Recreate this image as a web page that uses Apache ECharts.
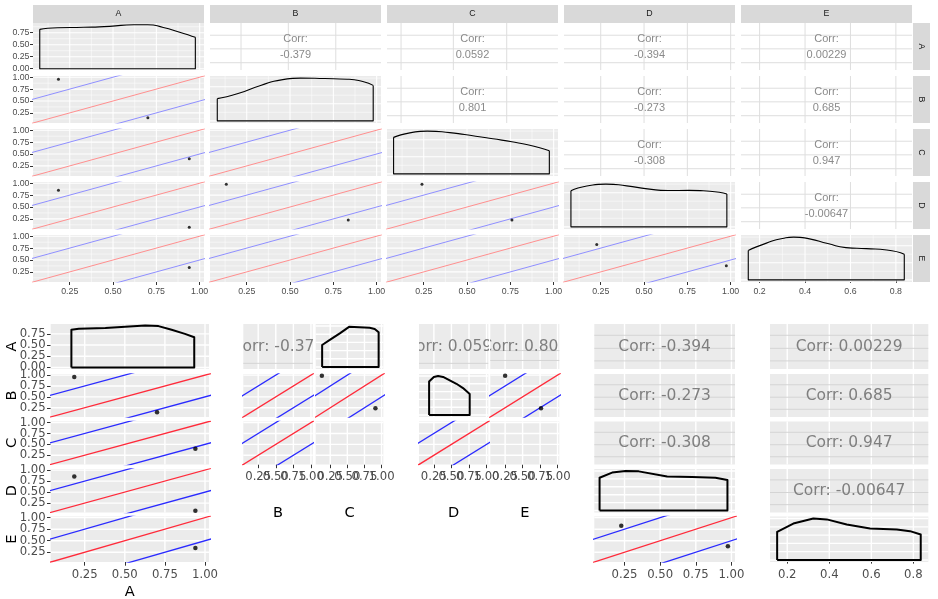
<!DOCTYPE html>
<html>
<head>
<meta charset="utf-8">
<script src="https://cdn.jsdelivr.net/npm/echarts@6/dist/echarts.min.js"></script>
<style>
  html, body { margin: 0; padding: 0; background: #ffffff; }
  #chart { width: 938px; height: 599px; }
</style>
</head>
<body>
<div id="chart"></div>
<script>
// ---------- data ----------
var varNames = ['A', 'B', 'C', 'D', 'E'];

// tick values
var ticks01 = [0.25, 0.5, 0.75, 1.0];
var minor01 = [0.125, 0.375, 0.625, 0.875];
var ticksE = [0.2, 0.4, 0.6, 0.8];
var minorE = [0.3, 0.5, 0.7];
var ticksDensA = [0, 0.25, 0.5, 0.75];
var minorDensA = [0.125, 0.375, 0.625, 0.875];
var ticksDensRel = [0, 0.4, 0.8];
var minorDensRel = [0.2, 0.6, 1.0];
var ticksDensRelBot = [0, 0.2, 0.4, 0.6, 0.8, 1.0];

// axis ranges
var range01 = [0.038, 1.025];
var rangeE = [0.118, 0.871];
var rangeDensA = [-0.027, 0.952];
var rangeDensABot = [-0.035, 0.97];
var rangeDensRel = [-0.05, 1.05];
var rangeUnit = [0, 1];

// correlations
var corrPairs = ['A-B', 'A-C', 'A-D', 'A-E', 'B-C', 'B-D', 'B-E', 'C-D', 'C-E', 'D-E'];
var corrValues = ['-0.379', '0.0592', '-0.394', '0.00229', '0.801', '-0.273', '0.685', '-0.308', '0.947', '-0.00647'];

// scatter points (row var - column var)
var ptsBA = [[0.185, 0.958], [0.701, 0.146]];
var ptsCA = [[0.94, 0.402]];
var ptsDA = [[0.185, 0.854], [0.94, 0.075]];
var ptsEA = [[0.94, 0.34]];
var ptsDB = [[0.132, 0.979], [0.836, 0.229]];
var ptsDC = [[0.24, 0.979], [0.759, 0.229]];
var ptsED = [[0.227, 0.827], [0.975, 0.381]];
var ptsGroup1 = [[0.128, 0.986], [0.91, 0.238]];
var ptsGroup2 = [[0.25, 0.986], [0.763, 0.238]];

// densities, ggplot version
var densAx = [0.077, 0.18, 0.33, 0.48, 0.62, 0.70, 0.79, 0.88, 0.975];
var densAy = [0.82, 0.852, 0.862, 0.882, 0.915, 0.915, 0.86, 0.765, 0.654];
var densBx = [0.080, 0.20, 0.33, 0.45, 0.56, 0.70, 0.83, 0.92, 0.98];
var densBy = [0.52, 0.64, 0.83, 0.96, 1.0, 0.99, 0.975, 0.92, 0.83];
var densCx = [0.076, 0.17, 0.27, 0.40, 0.55, 0.70, 0.85, 0.975];
var densCy = [0.854, 0.96, 1.0, 0.965, 0.88, 0.79, 0.68, 0.54];
var densDx = [0.078, 0.17, 0.28, 0.40, 0.52, 0.64, 0.76, 0.88, 0.978];
var densDy = [0.847, 0.955, 1.0, 0.96, 0.89, 0.85, 0.853, 0.835, 0.77];
var densEx = [0.15, 0.23, 0.30, 0.35, 0.42, 0.50, 0.58, 0.67, 0.76, 0.837];
var densEy = [0.69, 0.86, 0.97, 1.0, 0.96, 0.85, 0.755, 0.73, 0.70, 0.60];

// densities, plotly version
var bDensAx = [0.167, 0.213, 0.379, 0.503, 0.627, 0.71, 0.792, 0.875, 0.933];
var bDensAy = [0.84, 0.862, 0.878, 0.907, 0.937, 0.923, 0.84, 0.75, 0.675];
var bDensG1x = [0.132, 0.244, 0.39, 0.525, 0.826, 0.90, 0.957];
var bDensG1y = [0.537, 0.66, 0.82, 0.98, 0.96, 0.93, 0.85];
var bDensG2x = [0.182, 0.249, 0.31, 0.381, 0.571, 0.665, 0.76];
var bDensG2y = [0.86, 0.975, 1.0, 0.975, 0.80, 0.69, 0.54];
var bDensDx = [0.075, 0.163, 0.257, 0.35, 0.549, 0.724, 0.888, 0.972];
var bDensDy = [0.83, 0.96, 1.0, 0.99, 0.86, 0.85, 0.83, 0.77];
var bDensEx = [0.152, 0.229, 0.324, 0.388, 0.483, 0.594, 0.721, 0.784, 0.835];
var bDensEy = [0.68, 0.88, 1.0, 0.98, 0.856, 0.76, 0.736, 0.696, 0.616];

// reference lines y = x + offset
var refOffsets = [-0.5, 0, 0.5];
var refSpan = [-0.5, 1.5];

// grid lines inside the correlation panels
var topCorrV = [null, [0.217, 0.49, 0.764], [0.119, 0.421, 0.729], [0.25, 0.5, 0.75, 1.0], [0.2, 0.4, 0.6, 0.8]];
var topCorrH = [0.155, 0.45, 0.74];
var botCorrH = [0.18, 0.46, 0.75];
var g1CorrH = [0.126];
var g2CorrHD = [0.126];
var g2CorrHE = [0.19, 0.41];

// ---------- building ----------
var grids = [], xAxes = [], yAxes = [], series = [], graphics = [];

var LINE_STYLES = [
  { c: '#FFFFFF', w: 1.07 },  // ggplot major
  { c: '#FFFFFF', w: 0.53 },  // ggplot minor
  { c: '#DEDEDE', w: 1.0 },   // ggplot corr panel
  { c: '#FFFFFF', w: 1.4 },   // plotly major
  { c: '#D4D4D4', w: 1.0 }    // plotly corr panel
];

var TOP = { font: 'Liberation Sans', size: 8.8, color: '#4D4D4D', tick: 3, xMargin: 5.5, yMargin: 3.5 };
var BOT = { font: 'DejaVu Sans', size: 11.7, color: '#4D4D4D', tick: 3.7, xMargin: 6.5, yMargin: 5 };
var TOP_TXT = { font: 'Liberation Sans', size: 11, color: '#8A8A8A', lh: 15.7, dy: 0.7 };
var BOT_TXT = { font: 'DejaVu Sans', size: 15.5, color: '#7F7F7F', lh: 18, dy: 0 };

function fmt2(v) { return Number(v).toFixed(2); }
function fmt1(v) { return Number(v).toFixed(1); }

function lineItems(vals, orient, style) {
  return vals.map(function (v) { return [v, orient, style]; });
}

function makeAxis(i, r, lab, st, isX) {
  var ax = {
    gridIndex: i, type: 'value', min: r[0], max: r[1],
    axisLine: { show: false }, splitLine: { show: false }, splitArea: { show: false },
    axisTick: { show: false }, axisLabel: { show: false }
  };
  if (lab) {
    ax.axisTick = { show: true, customValues: lab.vals, length: st.tick, lineStyle: { color: '#333333', width: 1 } };
    // blank labels at both ends, so the min/max overlap rule never removes a real label
    ax.axisLabel = {
      show: true, customValues: [r[0]].concat(lab.vals, [r[1]]),
      formatter: function (v) {
        if (Math.abs(v - r[0]) < 1e-9 || Math.abs(v - r[1]) < 1e-9) return '';
        return lab.fmt(v);
      },
      margin: isX ? st.xMargin : st.yMargin, hideOverlap: false,
      fontFamily: st.font, fontSize: st.size, color: st.color
    };
  }
  return ax;
}

function addPanel(p) {
  var i = grids.length;
  grids.push({
    left: p.x, top: p.y, width: p.w, height: p.h, show: true,
    backgroundColor: p.bg, borderWidth: 0, containLabel: false, outerBoundsMode: 'none'
  });
  xAxes.push(makeAxis(i, p.xr, p.xLab, p.st, true));
  yAxes.push(makeAxis(i, p.yr, p.yLab, p.st, false));
  if (p.lines && p.lines.length) {
    var xr = p.xr, yr = p.yr;
    series.push({
      type: 'custom', xAxisIndex: i, yAxisIndex: i, z: 1, silent: true, data: p.lines,
      renderItem: function (params, api) {
        var cs = params.coordSys, v = api.value(0), s = LINE_STYLES[api.value(2)];
        var shape;
        if (api.value(1) === 0) {
          var x = api.coord([v, yr[0]])[0];
          shape = { x1: x, y1: cs.y, x2: x, y2: cs.y + cs.height };
        } else {
          var y = api.coord([xr[0], v])[1];
          shape = { x1: cs.x, y1: y, x2: cs.x + cs.width, y2: y };
        }
        return { type: 'line', shape: shape, style: { stroke: s.c, lineWidth: s.w } };
      }
    });
  }
  return i;
}

function addRefLines(i, red, blue, width) {
  refOffsets.forEach(function (off) {
    series.push({
      type: 'line', xAxisIndex: i, yAxisIndex: i, z: 2, silent: true, clip: true,
      showSymbol: false, symbol: 'none',
      data: refSpan.map(function (x) { return [x, x + off]; }),
      lineStyle: { color: off === 0 ? red : blue, width: width }
    });
  });
}

function addPoints(i, pts, size) {
  if (!pts || !pts.length) return;
  series.push({
    type: 'scatter', xAxisIndex: i, yAxisIndex: i, z: 4, silent: true, clip: true,
    data: pts, symbol: 'circle', symbolSize: size, itemStyle: { color: '#000000' }
  });
}

function addDensity(i, xs, ys, smooth, width) {
  var n = xs.length - 1;
  var curve = xs.map(function (x, k) { return [x, ys[k]]; });
  var common = {
    type: 'line', xAxisIndex: i, yAxisIndex: i, z: 3, silent: true,
    showSymbol: false, symbol: 'none', lineStyle: { color: '#000000', width: width, join: 'round' }
  };
  if (smooth) {
    series.push(Object.assign({}, common, { data: curve, smooth: 0.6 }));
    series.push(Object.assign({}, common, { data: [[xs[0], ys[0]], [xs[0], 0], [xs[n], 0], [xs[n], ys[n]]] }));
  } else {
    series.push(Object.assign({}, common, { data: [[xs[0], 0]].concat(curve, [[xs[n], 0], [xs[0], 0]]) }));
  }
}

function addText(i, text, st, xr, yr) {
  series.push({
    type: 'custom', xAxisIndex: i, yAxisIndex: i, z: 5, silent: true, clip: true,
    data: [[(xr[0] + xr[1]) / 2, (yr[0] + yr[1]) / 2]],
    renderItem: function (params) {
      var cs = params.coordSys;
      return {
        type: 'text',
        style: {
          text: text, x: cs.x + cs.width / 2, y: cs.y + cs.height / 2 + st.dy,
          align: 'center', verticalAlign: 'middle', textAlign: 'center', textVerticalAlign: 'middle',
          fill: st.color, fontSize: st.size, fontFamily: st.font, lineHeight: st.lh
        }
      };
    }
  });
}

function corrOf(a, b) { return corrValues[corrPairs.indexOf(a + '-' + b)]; }

var scatterTop = { 'B-A': ptsBA, 'C-A': ptsCA, 'D-A': ptsDA, 'E-A': ptsEA, 'D-B': ptsDB, 'D-C': ptsDC, 'E-D': ptsED };
var densTop = [[densAx, densAy], [densBx, densBy], [densCx, densCy], [densDx, densDy], [densEx, densEy]];

function addLabel(x, y, text, size, font, color, rot) {
  graphics.push({
    type: 'text', x: x, y: y, rotation: rot || 0, silent: true,
    style: {
      text: text, fill: color, fontSize: size, fontFamily: font,
      align: 'center', verticalAlign: 'middle', textAlign: 'center', textVerticalAlign: 'middle'
    }
  });
}

// ---------- top: ggplot pairs ----------
var colX = [33, 210, 387, 564, 741], colW = 171;
var rowY = [23, 76, 129, 182, 235], rowH = 47;

function colRange(c) { return c === 4 ? rangeE : range01; }
function colTicks(c) { return c === 4 ? ticksE : ticks01; }
function colMinor(c) { return c === 4 ? minorE : minor01; }
function colFmt(c) { return c === 4 ? fmt1 : fmt2; }

for (var r = 0; r < 5; r++) {
  for (var c = 0; c < 5; c++) {
    var xLab = r === 4 ? { vals: colTicks(c), fmt: colFmt(c) } : null;
    var yLab = c === 0 ? { vals: r === 0 ? ticksDensA : ticks01, fmt: fmt2 } : null;
    var base = { x: colX[c], y: rowY[r], w: colW, h: rowH, xr: colRange(c), xLab: xLab, yLab: yLab, st: TOP };
    var i;
    if (r === c) {
      var dA = r === 0;
      base.bg = '#EBEBEB';
      base.yr = dA ? rangeDensA : rangeDensRel;
      base.lines = lineItems(colTicks(c), 0, 0).concat(lineItems(colMinor(c), 0, 1),
        lineItems(dA ? ticksDensA : ticksDensRel, 1, 0), lineItems(dA ? minorDensA : minorDensRel, 1, 1));
      i = addPanel(base);
      addDensity(i, densTop[c][0], densTop[c][1], true, 1.1);
    } else if (r > c) {
      base.bg = '#EBEBEB';
      base.yr = range01;
      base.lines = lineItems(colTicks(c), 0, 0).concat(lineItems(colMinor(c), 0, 1),
        lineItems(ticks01, 1, 0), lineItems(minor01, 1, 1));
      i = addPanel(base);
      addRefLines(i, '#FF8F8F', '#8F8FFF', 1);
      addPoints(i, scatterTop[varNames[r] + '-' + varNames[c]], 3);
    } else {
      base.bg = '#FFFFFF';
      base.yr = rangeUnit;
      base.lines = lineItems(topCorrV[c], 0, 2).concat(lineItems(topCorrH, 1, 2));
      i = addPanel(base);
      addText(i, 'Corr:\n' + corrOf(varNames[r], varNames[c]), TOP_TXT, base.xr, base.yr);
    }
  }
}

// strips
varNames.forEach(function (v, k) {
  graphics.push({ type: 'rect', silent: true, shape: { x: colX[k], y: 5, width: colW, height: 18 }, style: { fill: '#D9D9D9' } });
  addLabel(colX[k] + colW / 2, 14, v, 8.8, 'Liberation Sans', '#1A1A1A', 0);
  graphics.push({ type: 'rect', silent: true, shape: { x: 913, y: rowY[k], width: 17, height: rowH }, style: { fill: '#D9D9D9' } });
  addLabel(921.5, rowY[k] + rowH / 2, v, 8.8, 'Liberation Sans', '#1A1A1A', -Math.PI / 2);
});

// ---------- bottom: plotly rendering ----------
var bRows = [[324, 45], [374, 43], [421.5, 43], [469, 43.5], [516.5, 45.5]];
var bColA = [50.7, 158.3];
var g1B = [243.3, 69.4], g1C = [315.7, 67.6];
var g2D = [419, 69.3], g2E = [490.3, 69];
var rgD = [594.3, 140.7], rgE = [770, 158.3];

function bPanel(col, row, o) {
  return addPanel({
    x: col[0], y: bRows[row][0], w: col[1], h: bRows[row][1], st: BOT, bg: '#EBEBEB',
    xr: o.xr, yr: o.yr, xLab: o.xLab || null, yLab: o.yLab || null, lines: o.lines
  });
}
function scatterLines(xt) { return lineItems(xt, 0, 3).concat(lineItems(ticks01, 1, 3)); }
function corrLines(xt, hl) { return lineItems(xt, 0, 3).concat(lineItems(hl, 1, 4)); }
var xLab01 = { vals: ticks01, fmt: fmt2 };
var xLabE = { vals: ticksE, fmt: fmt1 };

// left column A
var bi = bPanel(bColA, 0, { xr: range01, yr: rangeDensABot, yLab: { vals: ticksDensA, fmt: fmt2 },
  lines: lineItems(ticks01, 0, 3).concat(lineItems(ticksDensA, 1, 3)) });
addDensity(bi, bDensAx, bDensAy, false, 2);
for (var rr = 1; rr < 5; rr++) {
  bi = bPanel(bColA, rr, { xr: range01, yr: range01, yLab: { vals: ticks01, fmt: fmt2 },
    xLab: rr === 4 ? xLab01 : null, lines: scatterLines(ticks01) });
  addRefLines(bi, '#FF2A3A', '#2A2AFF', 1.3);
  addPoints(bi, scatterTop[varNames[rr] + '-A'], 4.5);
}

// group one (B, C)
bi = bPanel(g1B, 0, { xr: range01, yr: rangeUnit, lines: corrLines(ticks01, g1CorrH) });
addText(bi, 'Corr: ' + corrOf('A', 'B'), BOT_TXT, range01, rangeUnit);
bi = bPanel(g1C, 0, { xr: range01, yr: rangeDensRel, lines: lineItems(ticks01, 0, 3).concat(lineItems(ticksDensRelBot, 1, 3)) });
addDensity(bi, bDensG1x, bDensG1y, false, 2);
bi = bPanel(g1B, 1, { xr: range01, yr: range01, lines: scatterLines(ticks01) });
addRefLines(bi, '#FF2A3A', '#2A2AFF', 1.3);
bi = bPanel(g1C, 1, { xr: range01, yr: range01, lines: scatterLines(ticks01) });
addRefLines(bi, '#FF2A3A', '#2A2AFF', 1.3);
addPoints(bi, ptsGroup1, 4.5);
bi = bPanel(g1B, 2, { xr: range01, yr: range01, xLab: xLab01, lines: scatterLines(ticks01) });
addRefLines(bi, '#FF2A3A', '#2A2AFF', 1.3);
bPanel(g1C, 2, { xr: range01, yr: range01, xLab: xLab01, lines: scatterLines(ticks01) });

// group two (D, E)
bi = bPanel(g2D, 0, { xr: range01, yr: rangeUnit, lines: corrLines(ticks01, g2CorrHD) });
addText(bi, 'Corr: ' + corrOf('A', 'C'), BOT_TXT, range01, rangeUnit);
bi = bPanel(g2E, 0, { xr: range01, yr: rangeUnit, lines: corrLines(ticks01, g2CorrHE) });
addText(bi, 'Corr: ' + corrOf('B', 'C'), BOT_TXT, range01, rangeUnit);
bi = bPanel(g2D, 1, { xr: range01, yr: rangeDensRel, lines: lineItems(ticks01, 0, 3).concat(lineItems(ticksDensRelBot, 1, 3)) });
addDensity(bi, bDensG2x, bDensG2y, false, 2);
bi = bPanel(g2E, 1, { xr: range01, yr: range01, lines: scatterLines(ticks01) });
addRefLines(bi, '#FF2A3A', '#2A2AFF', 1.3);
addPoints(bi, ptsGroup2, 4.5);
bi = bPanel(g2D, 2, { xr: range01, yr: range01, xLab: xLab01, lines: scatterLines(ticks01) });
addRefLines(bi, '#FF2A3A', '#2A2AFF', 1.3);
bPanel(g2E, 2, { xr: range01, yr: range01, xLab: xLab01, lines: scatterLines(ticks01) });

// right group (D, E)
['A', 'B', 'C'].forEach(function (v, k) {
  var j = bPanel(rgD, k, { xr: range01, yr: rangeUnit, lines: corrLines(ticks01, botCorrH) });
  addText(j, 'Corr: ' + corrOf(v, 'D'), BOT_TXT, range01, rangeUnit);
});
bi = bPanel(rgD, 3, { xr: range01, yr: rangeDensRel, lines: lineItems(ticks01, 0, 3).concat(lineItems(ticksDensRelBot, 1, 3)) });
addDensity(bi, bDensDx, bDensDy, false, 2);
bi = bPanel(rgD, 4, { xr: range01, yr: range01, xLab: xLab01, lines: scatterLines(ticks01) });
addRefLines(bi, '#FF2A3A', '#2A2AFF', 1.3);
addPoints(bi, ptsED, 4.5);
['A', 'B', 'C', 'D'].forEach(function (v, k) {
  var j = bPanel(rgE, k, { xr: rangeE, yr: rangeUnit, lines: corrLines(ticksE, botCorrH) });
  addText(j, 'Corr: ' + corrOf(v, 'E'), BOT_TXT, rangeE, rangeUnit);
});
bi = bPanel(rgE, 4, { xr: rangeE, yr: rangeDensRel, xLab: xLabE, lines: lineItems(ticksE, 0, 3).concat(lineItems(ticksDensRelBot, 1, 3)) });
addDensity(bi, bDensEx, bDensEy, false, 2);

// axis titles of the bottom plot
addLabel(bColA[0] + bColA[1] / 2, 592, 'A', 14.6, 'DejaVu Sans', '#000000', 0);
addLabel(g1B[0] + g1B[1] / 2, 513.5, 'B', 14.6, 'DejaVu Sans', '#000000', 0);
addLabel(g1C[0] + g1C[1] / 2, 513.5, 'C', 14.6, 'DejaVu Sans', '#000000', 0);
addLabel(g2D[0] + g2D[1] / 2, 513.5, 'D', 14.6, 'DejaVu Sans', '#000000', 0);
addLabel(g2E[0] + g2E[1] / 2, 513.5, 'E', 14.6, 'DejaVu Sans', '#000000', 0);
varNames.forEach(function (v, k) {
  addLabel(12, bRows[k][0] + bRows[k][1] / 2, v, 14.6, 'DejaVu Sans', '#000000', Math.PI / 2);
});

var chart = echarts.init(document.getElementById('chart'));
chart.setOption({
  animation: false,
  backgroundColor: '#FFFFFF',
  grid: grids,
  xAxis: xAxes,
  yAxis: yAxes,
  series: series,
  graphic: { elements: graphics }
});
</script>
</body>
</html>
